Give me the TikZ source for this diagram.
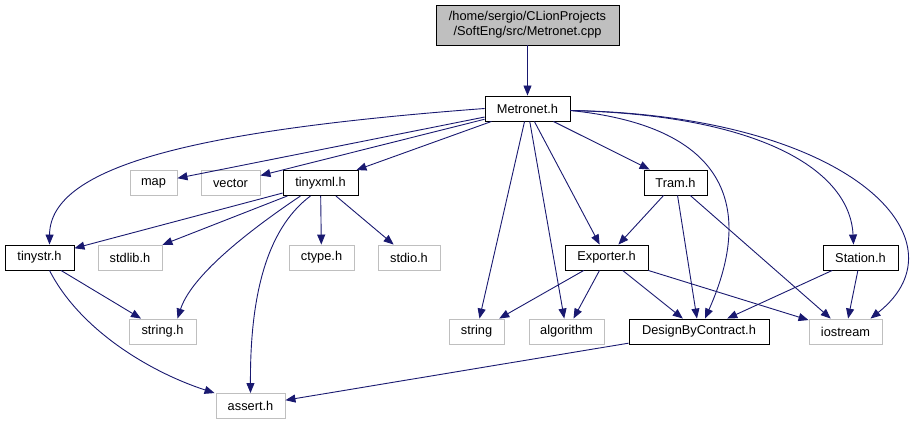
\documentclass[tikz,border=0pt]{standalone}
\usepackage{fontspec}
\setmainfont{Liberation Sans}
\usetikzlibrary{arrows.meta}
\definecolor{edgeblue}{HTML}{191970}
\definecolor{extgray}{HTML}{BFBFBF}
\definecolor{rootfill}{HTML}{BFBFBF}

\begin{document}
\begin{tikzpicture}[
  x=1pt, y=-1pt,
  >={Triangle[length=10pt, width=8pt]},
  filebox/.style={draw=black, line width=0.9pt, minimum height=25pt, inner sep=0pt,
                  align=center, font=\fontsize{12.8}{15}\selectfont},
  extbox/.style={filebox, draw=extgray},
  dep/.style={edgeblue, line width=0.9pt, ->},
]

% Page
\useasboundingbox (0,0) rectangle (922,425);

% ============ Root file ============
\node[filebox, fill=rootfill, minimum width=183pt, minimum height=40pt] (root) at (527.5,25)
  {/home/sergio/CLionProjects\\/SoftEng/src/Metronet.cpp};

\node[filebox, minimum width=85pt] (metronet) at (527.5,108.5) {Metronet.h};

% ============ Second row ============
\node[extbox, minimum width=47pt] (map) at (153.5,183) {map};
\node[extbox, minimum width=59pt] (vector) at (230.5,183) {vector};
\node[filebox, minimum width=75pt] (tinyxml) at (320.5,183) {tinyxml.h};
\node[filebox, minimum width=63pt] (tram) at (675.5,182.5) {Tram.h};

% ============ Third row ============
\node[filebox, minimum width=69pt] (tinystr) at (39.5,257.5) {tinystr.h};
\node[extbox, minimum width=64pt] (stdlib) at (130,257.5) {stdlib.h};
\node[extbox, minimum width=65pt] (ctype) at (321.5,257.5) {ctype.h};
\node[extbox, minimum width=62pt] (stdio) at (409,257.5) {stdio.h};
\node[filebox, minimum width=83pt] (exporter) at (606.5,257.5) {Exporter.h};
\node[filebox, minimum width=75pt] (station) at (860.5,257.5) {Station.h};

% ============ Fourth row ============
\node[extbox, minimum width=67pt] (stringh) at (162.5,331.5) {string.h};
\node[extbox, minimum width=55pt] (string) at (476.5,331.5) {string};
\node[extbox, minimum width=75pt] (algorithm) at (566.5,331.5) {algorithm};
\node[filebox, minimum width=140pt] (dbc) at (699,331.5) {DesignByContract.h};
\node[extbox, minimum width=73pt] (iostream) at (845.5,331.5) {iostream};

\node[extbox, minimum width=69pt] (assert) at (250.5,406) {assert.h};

% ============ Includes of Metronet.cpp / Metronet.h ============
\draw[dep] (root) -- (metronet);
\draw[dep] (metronet) -- (map);
\draw[dep] (metronet) -- (vector);
\draw[dep] (metronet) -- (tinyxml);
\draw[dep] (metronet) -- (tram);
\draw[dep] (metronet) -- (exporter);
\draw[dep] (metronet) -- (string);
\draw[dep] (metronet) -- (algorithm);
\draw[dep] (metronet.west) .. controls (200,130) and (50,165) .. ([xshift=10pt]tinystr.north);
\draw[dep] ([yshift=-2pt]metronet.east) .. controls (760,130) and (740,240) .. ([xshift=6pt]dbc.north);
\draw[dep] ([yshift=-2pt]metronet.east) .. controls (760,115) and (850,170) .. ([xshift=-7pt]station.north);
\draw[dep] ([yshift=-2pt]metronet.east) .. controls (850,115) and (970,240) .. ([xshift=25pt]iostream.north);

% ============ Includes of tinyxml.h / tinystr.h ============
\draw[dep] (tinyxml) -- (tinystr);
\draw[dep] (tinyxml) -- (stdlib);
\draw[dep] (tinyxml) -- (ctype);
\draw[dep] (tinyxml) -- (stdio);
\draw[dep] ([xshift=-20pt]tinyxml.south) .. controls (235,240) and (190,280) .. ([xshift=15pt]stringh.north);
\draw[dep] ([xshift=-10pt]tinyxml.south) .. controls (265,230) and (250,300) .. (assert.north);
\draw[dep] (tinystr) -- (stringh);
\draw[dep] ([xshift=10pt]tinystr.south) .. controls (80,330) and (150,372) .. ([xshift=-1pt]assert.north west);

% ============ Includes of Tram.h / Exporter.h / Station.h ============
\draw[dep] (tram) -- (exporter);
\draw[dep] (tram) -- (dbc);
\draw[dep] (tram) -- (iostream);
\draw[dep] (exporter) -- (string);
\draw[dep] (exporter) -- (algorithm);
\draw[dep] (exporter) -- (dbc);
\draw[dep] (exporter) -- (iostream);
\draw[dep] (station) -- (dbc);
\draw[dep] (station) -- (iostream);
\draw[dep] (dbc) -- (assert);

\end{tikzpicture}
\end{document}
